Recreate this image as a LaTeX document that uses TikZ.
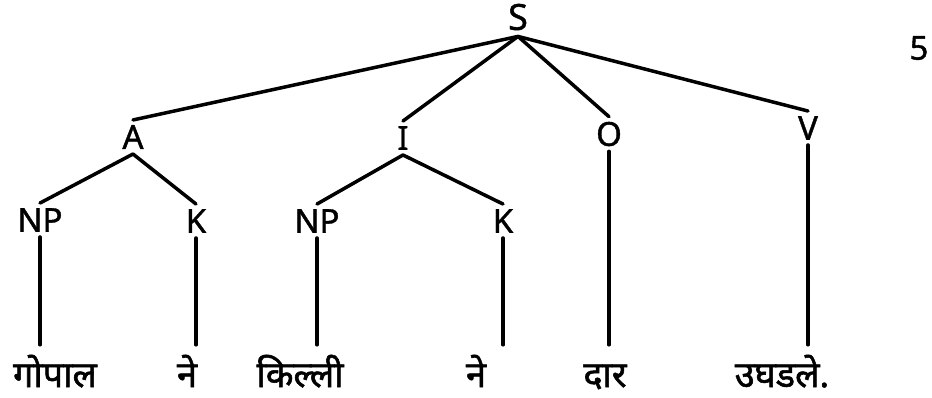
\documentclass[tikz,border=0pt]{standalone}
\usepackage{fontspec}
\setmainfont[FakeBold=1.2]{Noto Sans}
\newfontfamily\deva[Script=Devanagari, FakeBold=1.5]{Noto Sans}
\tikzset{
  cat/.style={inner sep=5pt, font=\fontsize{33}{33}\selectfont},
  word/.style={inner sep=0pt, anchor=base, text height=42pt, text depth=0pt, font=\deva\fontsize{36}{36}\selectfont},
  branch/.style={line width=3.5pt, line cap=round}
}

\begin{document}
\begin{tikzpicture}[x=1pt, y=-1pt]
\useasboundingbox (0,0) rectangle (932,397);
% Top
\node (S) at (518,17) [cat, inner sep=6pt, font=\fontsize{36}{36}\selectfont] {S};
\node (pg) at (919,48) [cat] {5};
% Cases
\node (A) at (133,137) [cat] {A};
\node (I) at (403,138) [cat] {I};
\node (O) at (609,134) [cat] {O};
\node (V) at (808,128) [cat] {V};
\node (NPa) at (40,220) [cat] {NP};
\node (Ka) at (196,221) [cat] {K};
\node (NPb) at (317,221) [cat] {NP};
\node (Kb) at (503,221) [cat] {K};
% Words
\node (w1) at (55,387) [word] {गोपाल};
\node (w2) at (187,387) [word] {ने};
\node (w3) at (300,387) [word] {किल्ली};
\node (w4) at (476,387) [word] {ने};
\node (w5) at (605,387) [word] {दार};
\node (w6) at (782,387) [word] {उघडले.};
% Branches
\draw[branch] (S.south) -- (A.north);
\draw[branch] (S.south) -- (I.north);
\draw[branch] (S.south) -- (O.north);
\draw[branch] (S.south) -- (V.north);
\draw[branch] (A.south) -- (NPa.north);
\draw[branch] (A.south) -- (Ka.north);
\draw[branch] (I.south) -- (NPb.north);
\draw[branch] (I.south) -- (Kb.north);
\draw[branch] (NPa.south) -- (NPa.south |- w1.north);
\draw[branch] (Ka.south) -- (Ka.south |- w2.north);
\draw[branch] (NPb.south) -- (NPb.south |- w3.north);
\draw[branch] (Kb.south) -- (Kb.south |- w4.north);
\draw[branch] (O.south) -- (O.south |- w5.north);
\draw[branch] (V.south) -- (V.south |- w6.north);
\end{tikzpicture}
\end{document}
